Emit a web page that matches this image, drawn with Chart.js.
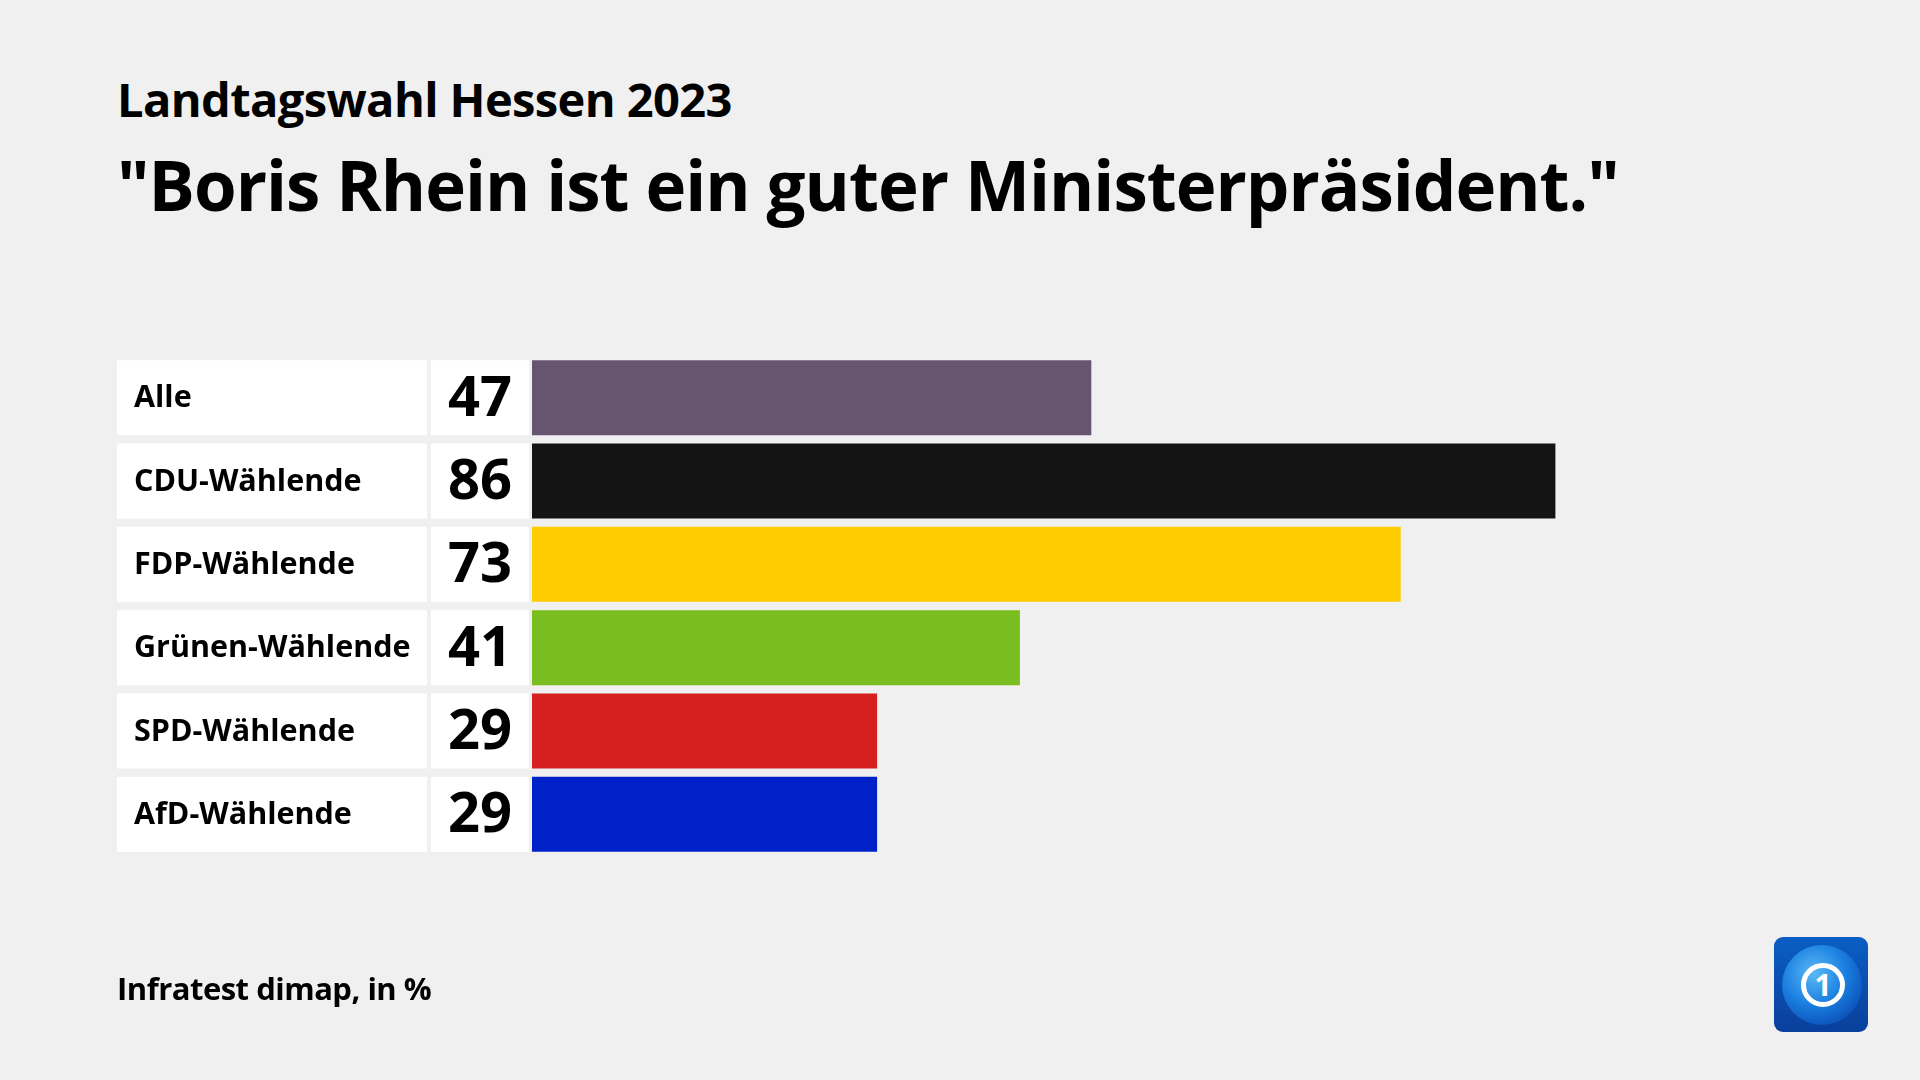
<!DOCTYPE html>
<html lang="de">
<head>
<meta charset="utf-8">
<title>Landtagswahl Hessen 2023</title>
<script src="https://cdn.jsdelivr.net/npm/chart.js@4"></script>
<style>
    html, body {
        margin: 0;
        padding: 0;
        background: #f0f0f0;
        width: 1920px;
        height: 1080px;
        overflow: hidden;
        font-family: "Open Sans", "Noto Sans", sans-serif;
        color: #000;
    }
    #chart {
        position: absolute;
        left: 0;
        top: 0;
    }
    .txt {
        position: absolute;
        left: 117px;
        font-weight: 700;
        white-space: nowrap;
        letter-spacing: -0.5px;
    }
    #kicker { top: 67px; font-size: 47px; letter-spacing: -0.6px; }
    #headline { top: 137px; font-size: 69px; letter-spacing: -1px; }
    #source { top: 967px; font-size: 31px; }
    #logo {
        position: absolute;
        left: 1774px;
        top: 937px;
        width: 94px;
        height: 95px;
        border-radius: 9px;
        background: linear-gradient(180deg, #0a5ec4 0%, #0a3f9c 100%);
        overflow: hidden;
    }
    #logo .globe {
        position: absolute;
        left: 8px;
        top: 8px;
        width: 80px;
        height: 80px;
        border-radius: 50%;
        background: radial-gradient(circle at 40% 35%, #5ab9f5 0%, #1a7fe0 45%, #0b4fb8 80%, #0a3f9c 100%);
    }
    #logo .ring {
        position: absolute;
        left: 27px;
        top: 26px;
        width: 34px;
        height: 34px;
        border: 5px solid #fff;
        border-radius: 50%;
        color: #fff;
        font: 700 30px "Open Sans", sans-serif;
        line-height: 34px;
        text-align: center;
    }
</style>
</head>
<body>
<div class="txt" id="kicker">Landtagswahl Hessen 2023</div>
<div class="txt" id="headline">"Boris Rhein ist ein guter Ministerpräsident."</div>
<canvas id="chart" width="1920" height="1080"></canvas>
<div class="txt" id="source">Infratest dimap, in %</div>
<div id="logo"><div class="globe"></div><div class="ring">1</div></div>

<script>
const categories = ['Alle', 'CDU-Wählende', 'FDP-Wählende', 'Grünen-Wählende', 'SPD-Wählende', 'AfD-Wählende'];
const values = [47, 86, 73, 41, 29, 29];
const barColors = ['#67546f', '#141414', '#ffcc00', '#7abd1f', '#d62020', '#0020c8'];

// white label and value boxes left of each bar
const rowLabels = {
    id: 'rowLabels',
    beforeDatasetsDraw(chart) {
        const ctx = chart.ctx;
        const yScale = chart.scales.y;
        const meta = chart.getDatasetMeta(0);
        ctx.save();
        categories.forEach((cat, i) => {
            const y = yScale.getPixelForValue(i);
            const h = meta.data[i].height;
            const top = y - h / 2;

            ctx.fillStyle = '#ffffff';
            ctx.fillRect(117, top, 310, h);
            ctx.fillRect(431, top, 98, h);

            ctx.fillStyle = '#000000';
            ctx.textBaseline = 'middle';
            ctx.textAlign = 'left';
            ctx.font = '700 30.5px "Open Sans", sans-serif';
            ctx.fillText(cat, 134, y + 1);

            ctx.textAlign = 'right';
            ctx.font = '700 56px "Open Sans", sans-serif';
            ctx.fillText(String(values[i]), 512, y + 2);
        });
        ctx.restore();
    }
};

const ctx = document.querySelector('#chart').getContext('2d');
new Chart(ctx, {
    type: 'bar',
    data: {
        labels: categories,
        datasets: [{
            data: values,
            backgroundColor: barColors,
            borderWidth: 0,
            barPercentage: 0.9,
            categoryPercentage: 1.0,
        }],
    },
    options: {
        indexAxis: 'y',
        responsive: false,
        animation: false,
        layout: {
            padding: { left: 532, right: 198, top: 356, bottom: 224 },
        },
        plugins: {
            legend: { display: false },
            tooltip: { enabled: false },
        },
        scales: {
            x: { display: false, min: 0, max: 100 },
            y: { display: false },
        },
    },
    plugins: [rowLabels],
});
</script>
</body>
</html>
